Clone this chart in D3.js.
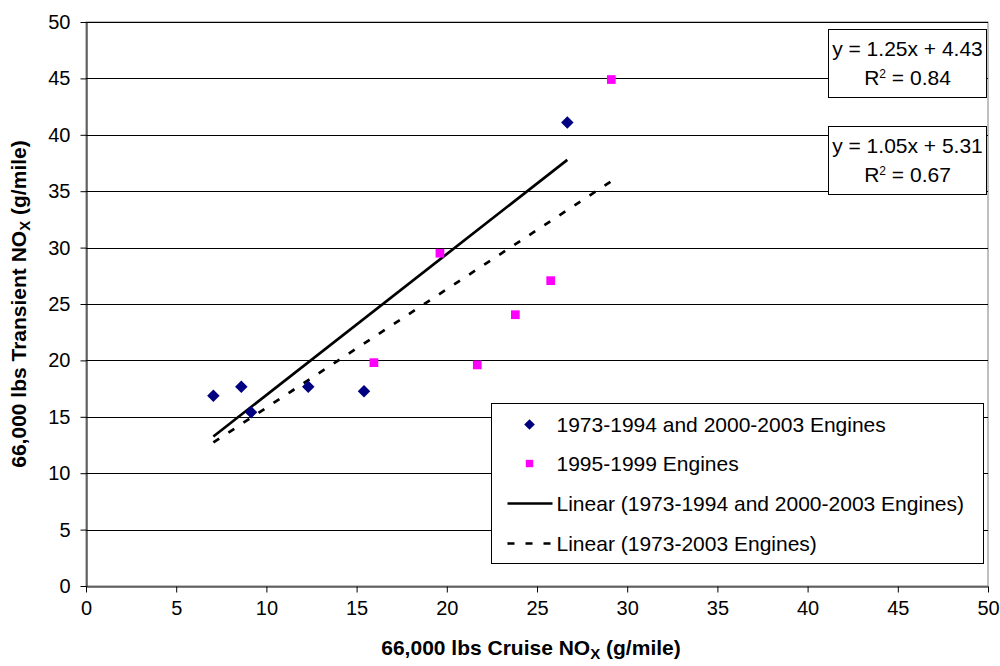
<!DOCTYPE html>
<html>
<head>
<meta charset="utf-8">
<script src="https://cdn.jsdelivr.net/npm/d3@7"></script>
<style>
  body { margin: 0; background: #fff; }
  svg { display: block; font-family: "Liberation Sans", Arial, sans-serif; }
</style>
</head>
<body>
<div id="chart"></div>
<script>
// NOx cruise vs transient scatter with two linear trend lines

// ── Data ──
const oldEngX = [7.06, 8.61, 9.15, 12.32, 15.41, 26.68];
const oldEngY = [16.87, 17.67, 15.4, 17.67, 17.26, 41.1];
const midEngX = [15.96, 19.62, 21.69, 23.8, 25.76, 29.12];
const midEngY = [19.8, 29.5, 19.6, 24.05, 27.07, 44.9];

// trend fits as printed on the chart: [slope, intercept, r2]
const fitOld = [1.25, 4.43, 0.84];
const fitAll = [1.05, 5.31, 0.67];

const xTicks = [0, 5, 10, 15, 20, 25, 30, 35, 40, 45, 50];
const yTicks = [0, 5, 10, 15, 20, 25, 30, 35, 40, 45, 50];

const legendLabels = [
  "1973-1994 and 2000-2003 Engines",
  "1995-1999 Engines",
  "Linear (1973-1994 and 2000-2003 Engines)",
  "Linear (1973-2003 Engines)"
];

// ── Layout ──
const W = 1000, H = 666;
const plot = { left: 86, right: 988, top: 22, bottom: 586 };
const FS = 21;

const svg = d3.select("#chart").append("svg")
  .attr("width", W).attr("height", H);

const x = d3.scaleLinear().domain([0, 50]).range([plot.left, plot.right]);
const y = d3.scaleLinear().domain([0, 50]).range([plot.bottom, plot.top]);

// plot area border (grey, right edge visible)
svg.append("rect")
  .attr("x", plot.left).attr("y", plot.top)
  .attr("width", plot.right - plot.left).attr("height", plot.bottom - plot.top)
  .attr("fill", "#fff").attr("stroke", "#808080").attr("stroke-width", 1);

// gridlines
svg.append("g").selectAll("line")
  .data(yTicks.filter(d => d > 0))
  .join("line")
  .attr("x1", plot.left).attr("x2", plot.right)
  .attr("y1", d => Math.round(y(d)) + 0.5).attr("y2", d => Math.round(y(d)) + 0.5)
  .attr("stroke", "#000").attr("stroke-width", 1);

// axes
const xAxis = svg.append("g")
  .attr("transform", `translate(0,${plot.bottom + 0.5})`)
  .call(d3.axisBottom(x).tickValues(xTicks).tickSize(6).tickPadding(8).tickSizeOuter(0));
const yAxis = svg.append("g")
  .attr("transform", `translate(${plot.left + 0.5},0)`)
  .call(d3.axisLeft(y).tickValues(yTicks).tickSize(6).tickPadding(10).tickSizeOuter(0));

[xAxis, yAxis].forEach(a => {
  a.selectAll("path, line").attr("stroke", "#000");
  a.selectAll("text")
    .attr("fill", "#000")
    .style("font-size", `${FS - 1}px`)
    .style("font-family", '"Liberation Sans", Arial, sans-serif');
});

// axis titles with subscript X
function noxTitle(sel, before) {
  sel.append("tspan").text(before + "NO");
  sel.append("tspan").text("X")
    .attr("baseline-shift", "-25%").style("font-size", "15px");
  sel.append("tspan").text(" (g/mile)");
}

svg.append("text")
  .attr("x", (plot.left + plot.right) / 2 - 6).attr("y", 655)
  .attr("text-anchor", "middle")
  .style("font-size", `${FS}px`).style("font-weight", "bold")
  .call(noxTitle, "66,000 lbs Cruise ");

svg.append("text")
  .attr("transform", `translate(26,${(plot.top + plot.bottom) / 2}) rotate(-90)`)
  .attr("text-anchor", "middle")
  .style("font-size", `${FS}px`).style("font-weight", "bold")
  .call(noxTitle, "66,000 lbs Transient ");

// ── Trend lines ──
const allX = oldEngX.concat(midEngX);
const trends = [
  { fit: fitOld, xs: d3.extent(oldEngX), dash: null },
  { fit: fitAll, xs: d3.extent(allX), dash: "7,11" }
];

const line = d3.line().x(d => x(d[0])).y(d => y(d[1]));

svg.append("g").selectAll("path")
  .data(trends)
  .join("path")
  .attr("d", t => line(t.xs.map(v => [v, t.fit[0] * v + t.fit[1]])))
  .attr("fill", "none")
  .attr("stroke", "#000")
  .attr("stroke-width", 2.7)
  .attr("stroke-dasharray", t => t.dash);

// ── Points ──
const diamond = d3.symbol().type(d3.symbolDiamond2).size(100);
const square = d3.symbol().type(d3.symbolSquare).size(76);

svg.append("g").selectAll("path")
  .data(oldEngX.map((v, i) => [v, oldEngY[i]]))
  .join("path")
  .attr("d", diamond)
  .attr("transform", d => `translate(${x(d[0])},${y(d[1])})`)
  .attr("fill", "#000080");

svg.append("g").selectAll("path")
  .data(midEngX.map((v, i) => [v, midEngY[i]]))
  .join("path")
  .attr("d", square)
  .attr("transform", d => `translate(${x(d[0])},${y(d[1])})`)
  .attr("fill", "#ff00ff");

// ── Equation labels ──
const eqBoxes = [
  { fit: fitOld, top: 29 },
  { fit: fitAll, top: 126 }
];
const eqW = 158, eqH = 68, eqX = 828;

const eq = svg.append("g").selectAll("g")
  .data(eqBoxes)
  .join("g")
  .attr("transform", d => `translate(${eqX + 0.5},${d.top + 0.5})`);

eq.append("rect")
  .attr("width", eqW).attr("height", eqH)
  .attr("fill", "#fff").attr("stroke", "#000");

eq.append("text")
  .attr("x", eqW / 2).attr("y", 26)
  .attr("text-anchor", "middle")
  .style("font-size", `${FS}px`)
  .text(d => `y = ${d.fit[0].toFixed(2)}x + ${d.fit[1].toFixed(2)}`);

eq.append("text")
  .attr("x", eqW / 2).attr("y", 55)
  .attr("text-anchor", "middle")
  .style("font-size", `${FS}px`)
  .each(function(d) {
    const t = d3.select(this);
    t.append("tspan").text("R");
    t.append("tspan").text("2").attr("baseline-shift", "55%").style("font-size", "12px");
    t.append("tspan").text(` = ${d.fit[2].toFixed(2)}`);
  });

// ── Legend ──
const leg = svg.append("g").attr("transform", "translate(491.5,403.5)");
leg.append("rect")
  .attr("width", 492).attr("height", 160)
  .attr("fill", "#fff").attr("stroke", "#000");

const rowY = [21, 60, 100, 140];
const items = leg.selectAll("g.item")
  .data(legendLabels)
  .join("g")
  .attr("class", "item")
  .attr("transform", (d, i) => `translate(0,${rowY[i]})`);

items.append("text")
  .attr("x", 65).attr("y", 7.5)
  .style("font-size", `${FS}px`)
  .text(d => d);

items.filter((d, i) => i === 0).append("path")
  .attr("d", diamond).attr("transform", "translate(38,0) scale(0.85)").attr("fill", "#000080");
items.filter((d, i) => i === 1).append("path")
  .attr("d", square).attr("transform", "translate(38,0) scale(0.85)").attr("fill", "#ff00ff");
items.filter((d, i) => i >= 2).append("line")
  .attr("x1", 16).attr("x2", 61)
  .attr("stroke", "#000").attr("stroke-width", 2.7)
  .attr("stroke-dasharray", (d, i) => i === 1 ? "7,11" : null);
</script>
</body>
</html>
